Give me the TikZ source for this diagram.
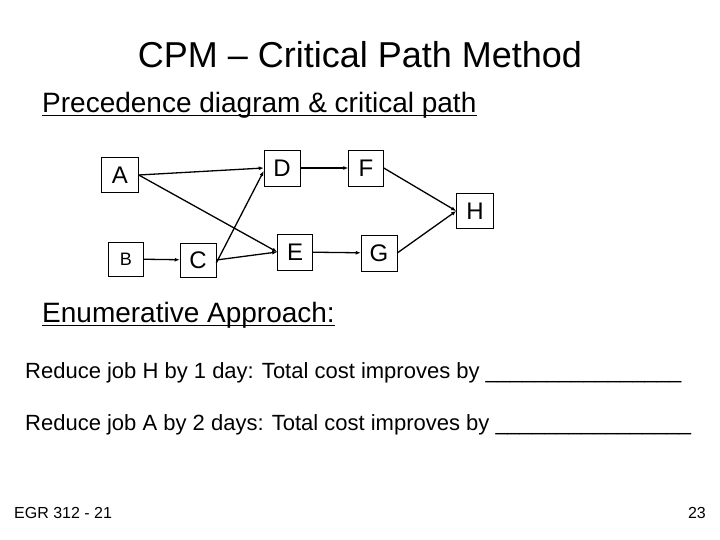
\documentclass[tikz,border=0pt]{standalone}
\usepackage{fontspec}
\setmainfont{Liberation Sans}
\usetikzlibrary{arrows.meta}
\begin{document}
\begin{tikzpicture}[x=1pt,y=-1pt,
  job/.style={draw,line width=0.5pt,inner sep=0pt,font=\fontsize{24}{24}\selectfont},
  arr/.style={-{Latex[length=5pt,width=4pt]},line width=1.3pt},
  txt/.style={inner sep=0pt,anchor=west},
  ul/.style={line width=1.2pt}]
\useasboundingbox (0,0) rectangle (720,540);
\node[inner sep=0pt,font=\fontsize{36}{36}\selectfont] (title) at (360,55) {CPM – Critical Path Method};
\node[txt,font=\fontsize{28}{28}\selectfont] (sub) at (42,105) {Precedence diagram \& critical path};
\draw[ul] ([yshift=-3.5pt]sub.base west) -- ([yshift=-3.5pt]sub.base east);
\node[job,minimum width=37pt,minimum height=35pt] (A) at (120,175) {A};
\node[job,minimum width=36pt,minimum height=36pt] (D) at (282,168) {D};
\node[job,minimum width=35pt,minimum height=36pt] (F) at (366,168) {F};
\node[job,minimum width=37pt,minimum height=35pt] (H) at (475,211) {H};
\node[job,minimum width=35pt,minimum height=34pt,font=\fontsize{18}{18}\selectfont] (B) at (126,259) {B};
\node[job,minimum width=36pt,minimum height=34pt] (C) at (198,260) {C};
\node[job,minimum width=35pt,minimum height=36pt] (E) at (295,252) {E};
\node[job,minimum width=36pt,minimum height=36pt] (G) at (379,253) {G};
\draw[arr] (A.east) -- (D.west);
\draw[arr] (A.east) -- (E.west);
\draw[arr] (B) -- (C);
\draw[arr] ([yshift=-3pt]C.east) -- ([yshift=-3pt]D.west);
\draw[arr] (C.east) -- (E.west);
\draw[arr] (D) -- (F);
\draw[arr] (E) -- (G);
\draw[arr] (F.east) -- (H.west);
\draw[arr] (G.east) -- (H.west);
\node[txt,font=\fontsize{28}{28}\selectfont] (enum) at (42,315) {Enumerative Approach:};
\draw[ul] ([yshift=-3.5pt]enum.base west) -- ([yshift=-3.5pt]enum.base east);
\node[txt,font=\fontsize{22}{22}\selectfont] (l1) at (25,373) {Reduce job H by 1 day: Total cost improves by \_\_\_\_\_\_\_\_\_\_\_\_\_\_\_\_};
\node[txt,font=\fontsize{22}{22}\selectfont] (l2) at (25,425) {Reduce job A by 2 days: Total cost improves by \_\_\_\_\_\_\_\_\_\_\_\_\_\_\_\_};
\node[txt,font=\fontsize{16}{16}\selectfont] (foot) at (14,513) {EGR 312 - 21};
\node[inner sep=0pt,anchor=east,font=\fontsize{16}{16}\selectfont] (pg) at (706,513) {23};
\end{tikzpicture}
\end{document}
